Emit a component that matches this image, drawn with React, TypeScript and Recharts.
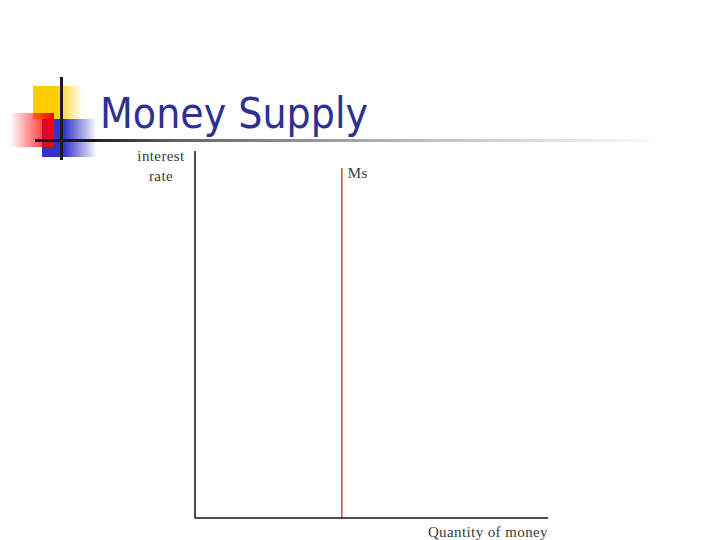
import React from "react";
import { LineChart, Line, XAxis, YAxis, Label } from "recharts";

// money supply is fixed by the central bank: a vertical line at one quantity
const msQuantity = [41.6, 41.6];
const msRate = [0, 95.4];
const axisLabels = { y: ["interest", "rate"], x: "Quantity of money", series: "Ms" };

const data = msQuantity.map((q, i) => ({ q, rate: msRate[i] }));

const serif = "'Liberation Serif', 'DejaVu Serif', serif";
const labelStyle = { fontFamily: serif, fontSize: 15, fill: "#3a3a3a", letterSpacing: 0.4 };

function Logo() {
  return (
    <svg width={720} height={540} style={{ position: "absolute", left: 0, top: 0 }}>
      <defs>
        <linearGradient id="yel" x1="0" x2="1" y1="0" y2="0">
          <stop offset="0.45" stopColor="#ffcc00" />
          <stop offset="1" stopColor="#ffcc00" stopOpacity={0} />
        </linearGradient>
        <linearGradient id="red" x1="0" x2="1" y1="0" y2="0">
          <stop offset="0" stopColor="#ff0000" stopOpacity={0} />
          <stop offset="1" stopColor="#ff0000" />
        </linearGradient>
        <linearGradient id="blu" x1="0" x2="1" y1="0" y2="0">
          <stop offset="0.4" stopColor="#3333cc" />
          <stop offset="1" stopColor="#3333cc" stopOpacity={0} />
        </linearGradient>
        <linearGradient id="rule" x1="0" x2="1" y1="0" y2="0">
          <stop offset="0" stopColor="#222222" />
          <stop offset="0.15" stopColor="#666666" />
          <stop offset="0.55" stopColor="#bbbbbb" />
          <stop offset="1" stopColor="#ffffff" />
        </linearGradient>
      </defs>
      <rect x={33} y={86} width={50} height={33} fill="url(#yel)" />
      <rect x={42} y={119} width={55} height={38} fill="url(#blu)" />
      <rect x={10} y={113} width={44} height={34} fill="url(#red)" />
      <rect x={95} y={139} width={575} height={3} fill="url(#rule)" />
      <rect x={35} y={139} width={62} height={3} fill="#1a1a1a" />
      <rect x={60} y={77} width={3} height={83} fill="#1a1a1a" />
      <text
        x={100}
        y={128}
        fontFamily="'DejaVu Sans', sans-serif"
        fontSize={42}
        fill="#2e3192"
        textLength={268}
        lengthAdjust="spacingAndGlyphs"
      >
        Money Supply
      </text>
    </svg>
  );
}

export default function App() {
  return (
    <div style={{ position: "absolute", left: 0, top: 0, width: 720, height: 540, background: "#fff" }}>
      <Logo />
      <div style={{ position: "absolute", left: 0, top: 0 }}>
        <LineChart
          width={720}
          height={540}
          data={data}
          margin={{ top: 151, right: 172, bottom: 2, left: 175 }}
        >
          <XAxis
            type="number"
            dataKey="q"
            domain={[0, 100]}
            height={20}
            tick={false}
            tickLine={false}
            axisLine={{ stroke: "#111", strokeWidth: 1.5 }}
          >
            <Label
              content={() => (
                <text x={548} y={537} textAnchor="end" {...labelStyle}>
                  {axisLabels.x}
                </text>
              )}
            />
          </XAxis>
          <YAxis
            type="number"
            dataKey="rate"
            domain={[0, 100]}
            width={20}
            tick={false}
            tickLine={false}
            axisLine={{ stroke: "#111", strokeWidth: 1.5 }}
          >
            <Label
              content={() => (
                <text textAnchor="middle" {...labelStyle}>
                  <tspan x={161} y={161}>{axisLabels.y[0]}</tspan>
                  <tspan x={161} y={181}>{axisLabels.y[1]}</tspan>
                </text>
              )}
            />
          </YAxis>
          <Line
            dataKey="rate"
            stroke="#b5523a"
            strokeWidth={1.5}
            dot={false}
            isAnimationActive={false}
            label={(p: any) =>
              p.index === 1 ? (
                <text key="ms" x={p.x + 6} y={p.y + 10} {...labelStyle}>
                  {axisLabels.series}
                </text>
              ) : null
            }
          />
        </LineChart>
      </div>
    </div>
  );
}
